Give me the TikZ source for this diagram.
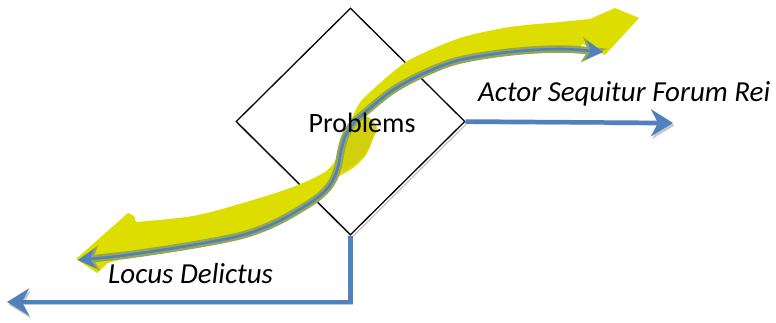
\documentclass[tikz,border=0pt]{standalone}
\usepackage{fontspec}
\setmainfont{Carlito}
\usetikzlibrary{shapes.geometric,arrows.meta}
\definecolor{ribbon}{RGB}{221,221,0}
\definecolor{ribbonside}{RGB}{208,208,12}
\definecolor{ribbonedge}{RGB}{150,166,84}
\definecolor{lineblue}{RGB}{79,129,189}

\begin{document}
\begin{tikzpicture}[x=1pt,y=-1pt,
    shadowed/.style={preaction={draw=black!22,transform canvas={shift={(1.5pt,-2.5pt)}}}},
    bluelink/.style={draw=lineblue,line width=4.5pt,-{Stealth[length=22pt,width=27pt,inset=7pt]},shadowed},
    ribbonline/.style={draw=lineblue,line width=2.6pt,{Stealth[length=17pt,width=19pt,inset=5pt]}-{Stealth[length=17pt,width=19pt,inset=5pt]},
      preaction={draw=ribbonedge,line width=7.5pt,{Stealth[length=21pt,width=25pt,inset=6pt]}-{Stealth[length=21pt,width=25pt,inset=6pt]}}},
    labeltext/.style={font=\fontsize{29}{33}\selectfont\itshape,inner sep=0pt}]
  \useasboundingbox (0,0) rectangle (776,323);

  % the box in the middle
  \node[diamond,draw,line width=1.3pt,fill=white,minimum width=229pt,minimum height=227pt,inner sep=0pt,shadowed] (problems) at (350.5,121.5) {};

  % the two ways out of it
  \coordinate (actorend) at (673,123);
  \coordinate (locusend) at (7,302);
  \draw[bluelink] (problems.east) -- (actorend);
  \draw[bluelink] (problems.south) |- (locusend);

  % the yellow ribbon
  \fill[ribbon] (76,259) -- (128,213) -- (134,216)
    -- plot[smooth,tension=0.5] coordinates {(136,222) (193,216) (243,203) (293,187) (325,172) (336,159)
      (340,145) (345,131) (352,118) (362,100) (393,72) (413,58) (460,38) (510,27) (560,22) (590,19)}
    -- (615,8) -- (639,18) -- (605,55) -- (583,44)
    -- plot[smooth,tension=0.5] coordinates {(575,50) (560,51) (510,55) (460,63) (427,75) (393,93) (366,116)
      (377,127) (373,139) (366,155) (353,168) (338,177) (331,184) (323,194) (310,206) (277,225)
      (243,238) (193,248) (130,257)}
    -- (108,263) -- (97,273) -- cycle;
  \fill[ribbonside] plot[smooth cycle,tension=0.5] coordinates {(353,124) (368,117) (376,127) (372,139)
    (365,154) (352,166) (342,170) (344,148)};
  \draw[ribbonline] plot[smooth,tension=0.55] coordinates {(78,260) (127,255) (193,245) (243,235) (277,222)
    (310,203) (325,191) (333,180) (338,167) (341,151) (345,137) (352,125) (362,115) (393,90)
    (427,72) (460,60) (510,52) (560,49) (603,52)};

  % texts
  \node[font=\fontsize{28}{32}\selectfont,anchor=base,inner sep=0pt] (problemstext) at (362,133) {Problems};
  \node[labeltext,anchor=base west] (actor) at (478,102) {Actor Sequitur Forum Rei};
  \node[labeltext,anchor=base west] (locus) at (108,283) {Locus Delictus};
\end{tikzpicture}
\end{document}
